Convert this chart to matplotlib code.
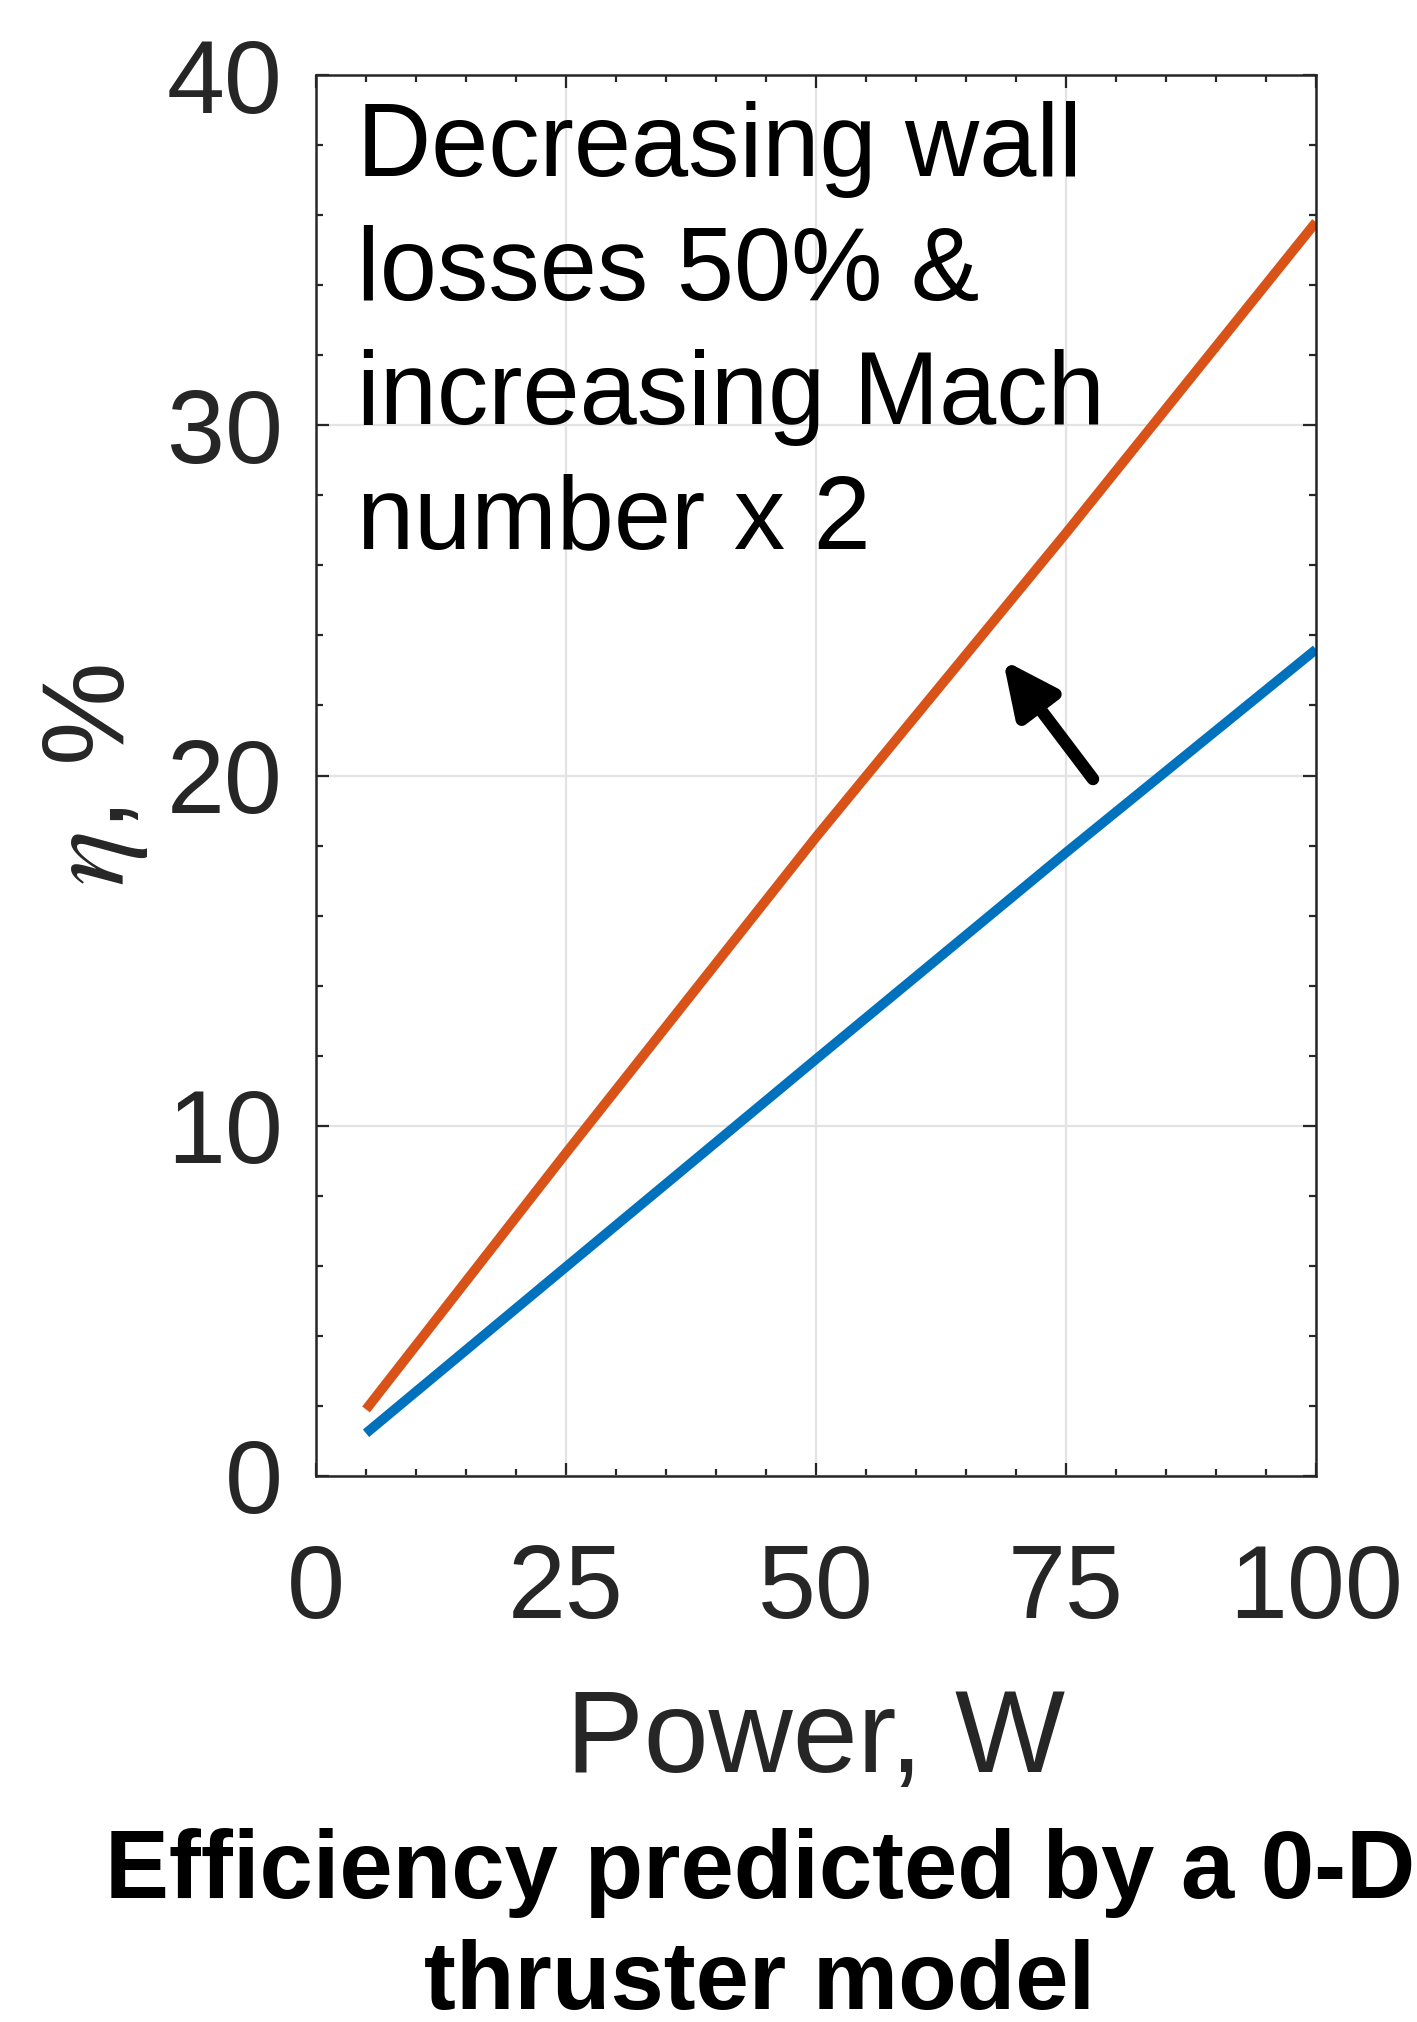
import numpy as np
import matplotlib
matplotlib.use('Agg')
import matplotlib.pyplot as plt
from matplotlib.ticker import MultipleLocator

plt.rcParams['font.family'] = ['Liberation Sans', 'DejaVu Sans']
plt.rcParams['mathtext.fontset'] = 'stix'

# power (W) and predicted efficiency (%)
power = [5, 25, 50, 75, 100]
eta_base = [1.22, 5.97, 11.9, 17.8, 23.6]
eta_improved = [1.9, 9.22, 18.24, 26.92, 35.8]

xticks = [0, 25, 50, 75, 100]
yticks = [0, 10, 20, 30, 40]

note = 'Decreasing wall\nlosses 50% &\nincreasing Mach\nnumber x 2'
caption = 'Efficiency predicted by a 0-D\nthruster model'

blue = '#0072BD'
orange = '#D95319'
axcol = '#262626'

fig = plt.figure(figsize=(14.17, 20.22), dpi=100)
ax = fig.add_axes([316 / 1417, 1 - 1476 / 2022, 1000 / 1417, 1401 / 2022])

ax.plot(power, eta_base, color=blue, lw=7, solid_capstyle='butt')
ax.plot(power, eta_improved, color=orange, lw=7, solid_capstyle='butt')

ax.set_xlim(0, 100)
ax.set_ylim(0, 40)
ax.set_xticks(xticks)
ax.set_yticks(yticks)
ax.xaxis.set_minor_locator(MultipleLocator(5))
ax.yaxis.set_minor_locator(MultipleLocator(2))
ax.grid(True, which='major', color='#e3e3e3', lw=1.6)
ax.set_axisbelow(True)

ax.tick_params(which='both', direction='in', top=True, right=True,
               color=axcol, width=1.6)
ax.tick_params(which='major', length=9.5)
ax.tick_params(which='minor', length=5)
ax.tick_params(axis='x', which='major', labelsize=75, labelcolor=axcol, pad=48)
ax.tick_params(axis='y', which='major', labelsize=75, labelcolor=axcol, pad=24)
for s in ax.spines.values():
    s.set_color(axcol)
    s.set_linewidth(1.8)

ax.set_xlabel('Power, W', fontsize=84, color=axcol, labelpad=34)
ax.set_ylabel(r'$\eta$, %', fontsize=84, color=axcol, labelpad=12)

# last-line baseline anchors the multi-line note
ax.text(4.1, 26.5, note, fontsize=74, color='black', va='baseline', ha='left',
        linespacing=1.36)

ax.annotate('', xy=(68.7, 23.3), xytext=(77.7, 19.9),
            arrowprops=dict(arrowstyle='-|>,head_length=0.8,head_width=0.38',
                            mutation_scale=40, lw=9, color='black',
                            shrinkA=0, shrinkB=0))

fig.text(760 / 1417, 1 - 2009 / 2022, caption, fontsize=69, fontweight='bold',
         ha='center', va='baseline', multialignment='center', linespacing=1.3)

fig.savefig('out.png', dpi=100)
